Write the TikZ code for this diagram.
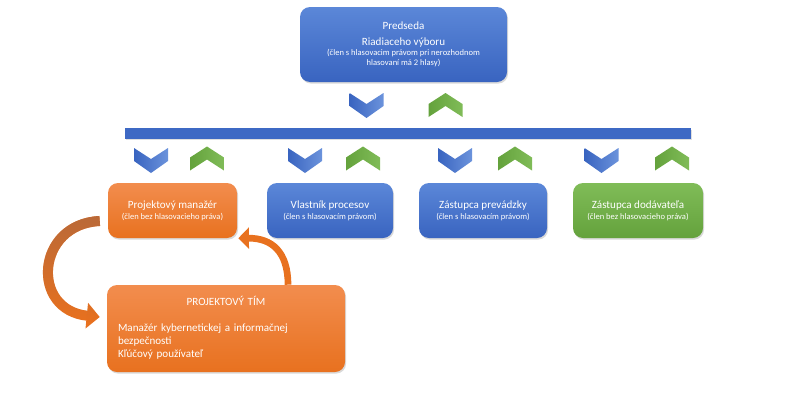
\documentclass[tikz,border=0pt]{standalone}
\usepackage{fontspec}
\setmainfont{Carlito}
\usetikzlibrary{shadows,arrows.meta,fadings}

\definecolor{modraH}{HTML}{5B87D8}
\definecolor{modraD}{HTML}{3964C0}
\definecolor{oranzH}{HTML}{F28D4E}
\definecolor{oranzD}{HTML}{E8711F}
\definecolor{zelenaH}{HTML}{80BC58}
\definecolor{zelenaD}{HTML}{64A23C}
\definecolor{hneda}{HTML}{B5693B}
\newcommand{\drobne}{\fontsize{6.4}{7.5}\selectfont}
\tikzfading[name=zhora, top color=transparent!10, middle color=transparent!85, bottom color=transparent!100]

\begin{document}
\begin{tikzpicture}[x=0.75pt,y=-0.75pt,
  box/.style={rounded corners=7.5pt, text=white, align=center, inner sep=0pt,
    font=\fontsize{8.3}{10}\selectfont,
    drop shadow={shadow xshift=0.8pt,shadow yshift=-1.2pt,opacity=0.3}},
  modrybox/.style={box, top color=modraH, bottom color=modraD},
  oranzbox/.style={box, top color=oranzH, bottom color=oranzD},
  zelenybox/.style={box, top color=zelenaH, bottom color=zelenaD},
  clen/.style={minimum height=41.25pt},
  sipka/.style={-{Triangle[width=18.75pt,length=9.75pt]}},
  chevdown/.pic={\shade[left color=modraD,right color=modraH!90]
    (-17,-12.5) -- (0,-1.5) -- (17,-12.5) -- (17,0.5) -- (0,12.5) -- (-17,0.5) -- cycle;},
  chevup/.pic={\shade[left color=zelenaD,right color=zelenaH]
    (-17,11.5) -- (0,0.5) -- (17,11.5) -- (17,-1.5) -- (0,-12.5) -- (-17,-1.5) -- cycle;}]
\useasboundingbox (0,0) rectangle (807,400);

% predseda
\node[modrybox, minimum width=155.25pt, minimum height=56.25pt] (predseda) at (403.5,44.5)
  {Predseda\\[2pt]Riadiaceho výboru\\[-2.5pt]{\drobne (člen s hlasovacim právom pri nerozhodnom}\\[-2.5pt]{\drobne hlasovaní má 2 hlasy)}};
\pic at (366.5,105.5) {chevdown};
\pic at (445.5,105.5) {chevup};

% lista
\node[fill=modraD!85!modraH, minimum width=424.5pt, minimum height=8pt, inner sep=0pt,
  drop shadow={shadow xshift=0.5pt,shadow yshift=-1pt,opacity=0.25}] (lista) at (408,133.5) {};
\foreach \x in {151,305,455,601.5} \pic at (\x,160.5) {chevdown};
\foreach \x in {207,363,515,672} \pic at (\x,159) {chevup};

% clenovia
\node[oranzbox, clen, minimum width=96.75pt] (pm) at (172.5,210.5)
  {Projektový manažér\\[-1.75pt]{\drobne (člen bez hlasovacieho práva)}};
\node[modrybox, clen, minimum width=94.5pt] (vlastnik) at (330,210.5)
  {Vlastník procesov\\[-1.75pt]{\drobne (člen s hlasovacím právom)}};
\node[modrybox, clen, minimum width=96pt] (prevadzka) at (483,210.5)
  {Zástupca prevádzky\\[-1.75pt]{\drobne (člen s hlasovacím právom)}};
\node[zelenybox, clen, minimum width=97.5pt] (dodavatel) at (638,210.5)
  {Zástupca dodávateľa\\[-1.75pt]{\drobne (člen bez hlasovacieho práva)}};

% projektovy tim
\node[oranzbox, minimum width=178.5pt, minimum height=65.25pt, text width=162pt, align=left,
  font=\fontsize{8.3}{9.75}\selectfont] (tim) at (226,328.5)
  {{\centering PROJEKTOVÝ TÍM\par}\vspace{9.75pt}
   Manažér kybernetickej a informačnej\\bezpečnosti\\Kľúčový používateľ\par\vspace{1pt}};

% sipky
\draw[sipka, line width=7.5pt, oranzD] ([shift={(-8,10.5)}]pm.west)
  .. controls (36,224) and (30,310) .. ([shift={(-7,-11.5)}]tim.west);
\draw[sipka, line width=7.5pt, hneda, path fading=zhora] ([shift={(-8,10.5)}]pm.west)
  .. controls (36,224) and (30,310) .. ([shift={(-7,-11.5)}]tim.west);
\draw[-{Triangle[width=15.75pt,length=8pt]}, line width=5pt, oranzD] ([shift={(62,0)}]tim.north)
  .. controls (288,252) and (272,238) .. ([shift={(1,0)}]pm.south east);
\end{tikzpicture}
\end{document}
